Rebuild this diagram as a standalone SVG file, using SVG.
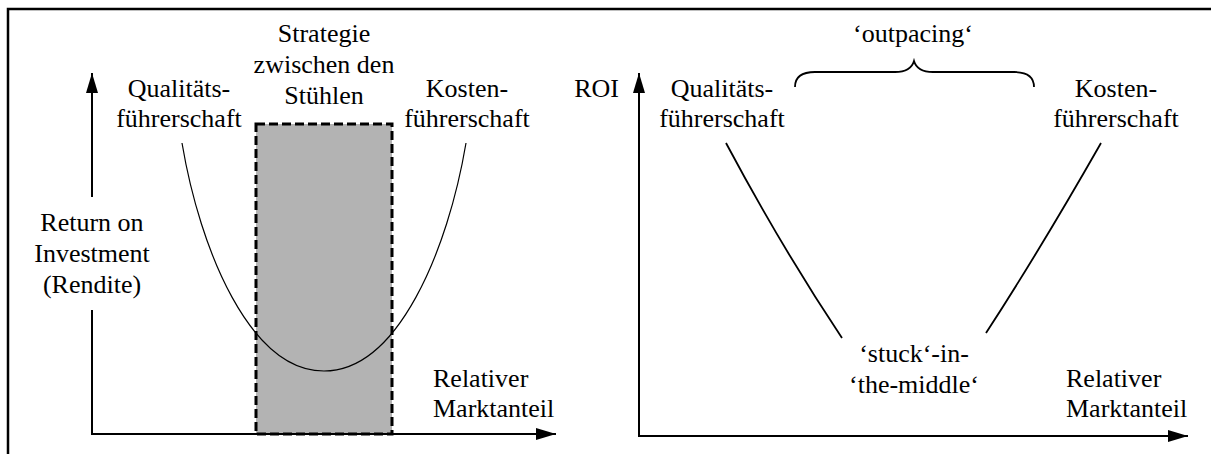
<svg xmlns="http://www.w3.org/2000/svg" width="1211" height="454" viewBox="0 0 1211 454">
  <defs>
    <marker id="arrow" viewBox="0 0 20 12" refX="20" refY="6" markerWidth="20" markerHeight="12" markerUnits="userSpaceOnUse" orient="auto">
      <path d="M0,0 L20,6 L0,12 Z" fill="#000"/>
    </marker>
  </defs>

  <rect width="1211" height="454" fill="#fff"/>

  <!-- outer frame (top and left edges) -->
  <path d="M8,454 L8,9 L1211,9" stroke="#000" stroke-width="2.5" fill="none"/>

  <!-- left chart: grey band for the middle strategy -->
  <g id="band">
    <rect x="256" y="124" width="136" height="310" fill="#b3b3b3" stroke="#000" stroke-width="3" stroke-dasharray="9,4"/>
  </g>

  <g id="connectors" stroke="#000" fill="none">
    <!-- left chart axes -->
    <path stroke-width="2" d="M92,434 L92,310"/>
    <path stroke-width="2" d="M92,197 L92,73" marker-end="url(#arrow)"/>
    <path stroke-width="2" d="M91,434 L556,434" marker-end="url(#arrow)"/>
    <!-- U-shaped ROI curve -->
    <path stroke-width="1.2" d="M182,143 C200,250 250,371 324,371 C398,371 448,250 466,143"/>
    <!-- right chart axes -->
    <path stroke-width="2" d="M639,437 L639,73" marker-end="url(#arrow)"/>
    <path stroke-width="2" d="M638,436 L1188,436" marker-end="url(#arrow)"/>
    <!-- V-shaped lines -->
    <path stroke-width="1.8" d="M726,143 Q782,248 842,338"/>
    <path stroke-width="1.8" d="M1101,143 Q1040,250 986,333"/>
    <!-- brace over the outpacing range -->
    <path stroke-width="1.8" d="M795,87 C795,78 800,72 815,72 L895,72 C905,72 912,68 914,61 C916,68 923,72 933,72 L1014,72 C1029,72 1034,78 1034,87"/>
  </g>

  <g font-size="26" text-anchor="middle" fill="#000" font-family="Tinos">
    <!-- left chart labels -->
    <g id="left-yaxis-label">
      <text font-family="Tinos" x="92" y="231">Return on</text>
      <text font-family="Tinos" x="92" y="262">Investment</text>
      <text font-family="Tinos" x="92" y="293">(Rendite)</text>
    </g>
    <g id="left-quality">
      <text font-family="Tinos" x="179" y="97">Qualitäts-</text>
      <text font-family="Tinos" x="179" y="127">führerschaft</text>
    </g>
    <g id="left-middle">
      <text font-family="Tinos" x="324" y="42">Strategie</text>
      <text font-family="Tinos" x="324" y="73">zwischen den</text>
      <text font-family="Tinos" x="324" y="104">Stühlen</text>
    </g>
    <g id="left-cost">
      <text font-family="Tinos" x="467" y="97">Kosten-</text>
      <text font-family="Tinos" x="467" y="127">führerschaft</text>
    </g>
    <g id="left-xaxis-label" text-anchor="start">
      <text font-family="Tinos" x="433" y="387">Relativer</text>
      <text font-family="Tinos" x="433" y="417">Marktanteil</text>
    </g>

    <!-- right chart labels -->
    <g id="right-yaxis-label" text-anchor="end">
      <text font-family="Tinos" x="619" y="97">ROI</text>
    </g>
    <g id="right-outpacing">
      <text font-family="Tinos" x="913" y="42">‘outpacing‘</text>
    </g>
    <g id="right-quality">
      <text font-family="Tinos" x="722" y="97">Qualitäts-</text>
      <text font-family="Tinos" x="722" y="127">führerschaft</text>
    </g>
    <g id="right-cost">
      <text font-family="Tinos" x="1116" y="97">Kosten-</text>
      <text font-family="Tinos" x="1116" y="127">führerschaft</text>
    </g>
    <g id="right-stuck">
      <text font-family="Tinos" x="914" y="362">‘stuck‘-in-</text>
      <text font-family="Tinos" x="914" y="393">‘the-middle‘</text>
    </g>
    <g id="right-xaxis-label" text-anchor="start">
      <text font-family="Tinos" x="1066" y="387">Relativer</text>
      <text font-family="Tinos" x="1066" y="417">Marktanteil</text>
    </g>
  </g>
</svg>
